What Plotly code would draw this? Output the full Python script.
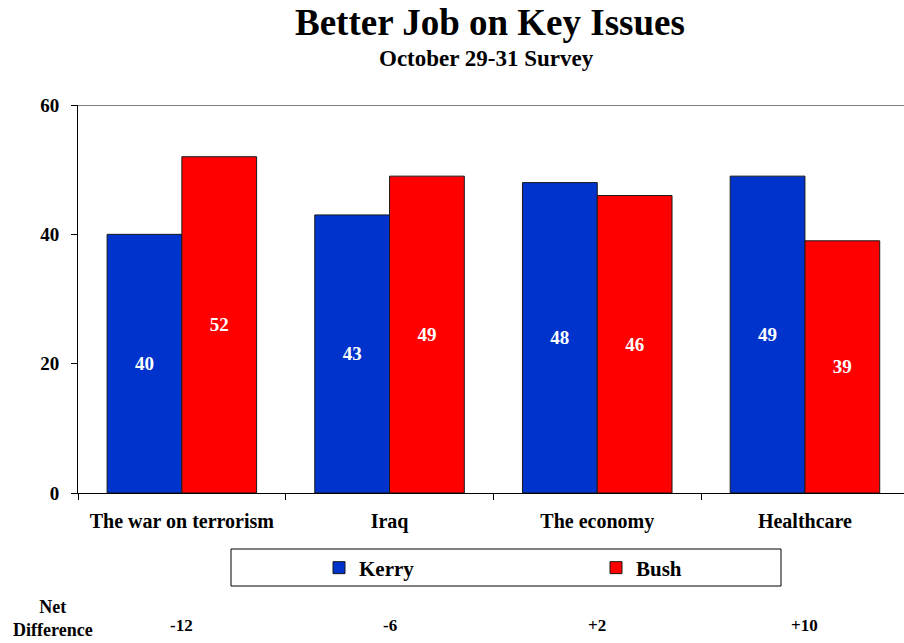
import plotly.graph_objects as go

categories = ["The war on terrorism", "Iraq", "The economy", "Healthcare"]
kerry = [40, 43, 48, 49]
bush = [52, 49, 46, 39]
net_diff = [k - b for k, b in zip(kerry, bush)]
y_ticks = [0, 20, 40, 60]

FONT = "Liberation Serif"
W, H = 904, 643
L, T, B = 78, 105, 150
PW, PH = W - L, H - T - B


def px_x(x):
    return (x - L) / PW


def px_y(y):
    return (H - B - y) / PH


fig = go.Figure()
fig.add_trace(go.Bar(
    name="Kerry", x=categories, y=kerry, legend="legend",
    marker=dict(color="#0033CC", line=dict(color="#1a1a1a", width=1)),
    text=[str(v) for v in kerry], textposition="inside", insidetextanchor="middle",
    textfont=dict(family=FONT, size=19, color="white", weight="bold"),
    textangle=0,
))
fig.add_trace(go.Bar(
    name="Bush", x=categories, y=bush, legend="legend2",
    marker=dict(color="#FF0000", line=dict(color="#1a1a1a", width=1)),
    text=[str(v) for v in bush], textposition="inside", insidetextanchor="middle",
    textfont=dict(family=FONT, size=19, color="white", weight="bold"),
    textangle=0,
))

# plot spans 4 categories of ~207.7px starting at x=78; canvas clips the last few px
cat_px = 207.7
right_val = -0.5 + PW / cat_px

legend_font = dict(family=FONT, size=21, color="black", weight="bold")

fig.update_layout(
    width=W, height=H,
    margin=dict(l=L, r=0, t=T, b=B, autoexpand=False),
    paper_bgcolor="white", plot_bgcolor="white",
    barmode="group", bargap=0.28, bargroupgap=0,
    font=dict(family=FONT, color="black"),
    xaxis=dict(
        range=[-0.5, right_val], showline=True, linecolor="black", linewidth=1,
        ticks="outside", tickson="boundaries", ticklen=6, tickcolor="black",
        tickfont=dict(family=FONT, size=20, color="black", weight="bold"),
        ticklabelstandoff=10, showgrid=False, zeroline=False, automargin=False,
    ),
    yaxis=dict(
        range=[0, 60], tickvals=y_ticks, showline=True, linecolor="black", linewidth=1,
        ticks="outside", ticklen=6, tickcolor="black", showgrid=False, zeroline=False,
        tickfont=dict(family=FONT, size=19, color="black", weight="bold"),
        ticklabelstandoff=8, automargin=False,
    ),
    showlegend=True,
    legend=dict(
        x=px_x(319), xanchor="left", y=px_y(568), yanchor="middle",
        bgcolor="rgba(0,0,0,0)", borderwidth=0, itemwidth=30, font=legend_font,
    ),
    legend2=dict(
        x=px_x(596), xanchor="left", y=px_y(568), yanchor="middle",
        bgcolor="rgba(0,0,0,0)", borderwidth=0, itemwidth=30, font=legend_font,
    ),
    shapes=[
        dict(type="line", xref="paper", yref="y", x0=0, x1=1, y0=60, y1=60,
             line=dict(color="black", width=1)),
        dict(type="rect", xref="paper", yref="paper",
             x0=px_x(231), x1=px_x(781), y0=px_y(586), y1=px_y(549),
             line=dict(color="black", width=1), fillcolor="rgba(0,0,0,0)"),
    ],
)

ann = [
    dict(text="<b>Better Job on Key Issues</b>", xref="paper", yref="paper",
         x=px_x(490), y=px_y(22), xanchor="center", yanchor="middle", showarrow=False,
         font=dict(family=FONT, size=37, color="black")),
    dict(text="<b>October 29-31 Survey</b>", xref="paper", yref="paper",
         x=px_x(486), y=px_y(59), xanchor="center", yanchor="middle", showarrow=False,
         font=dict(family=FONT, size=23, color="black")),
    dict(text="<b>Net<br>Difference</b>", xref="paper", yref="paper",
         x=px_x(53), y=px_y(618), xanchor="center", yanchor="middle",
         showarrow=False, font=dict(family=FONT, size=18, color="black")),
]
for c, d in zip(categories, net_diff):
    ann.append(dict(text="<b>%+d</b>" % d, xref="x", yref="paper", x=c,
                    y=px_y(625), xanchor="center", yanchor="middle",
                    showarrow=False, font=dict(family=FONT, size=17, color="black")))
fig.update_layout(annotations=ann)

fig.write_html("out.html", config={"displayModeBar": False},
               post_script="document.body.style.margin='0';")
